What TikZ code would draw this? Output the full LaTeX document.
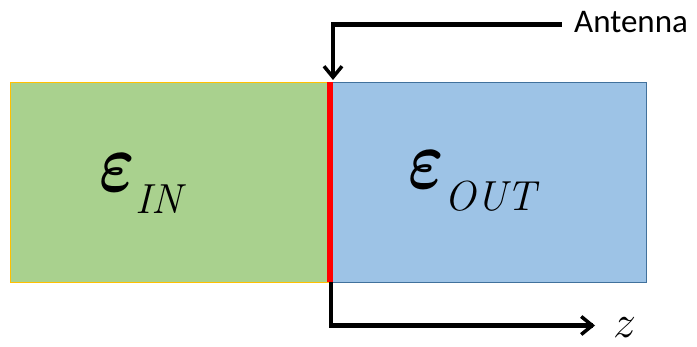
\RequirePackage{fix-cm}
\documentclass[tikz,border=0pt]{standalone}
\usepackage{amsmath}
\usepackage{fontspec}
\usetikzlibrary{arrows.meta}
\setsansfont{Carlito}
\definecolor{greenfill}{HTML}{A9D18E}
\definecolor{bluefill}{HTML}{9DC3E6}
\definecolor{blueedge}{HTML}{41719C}
\definecolor{orangeedge}{HTML}{FFC000}
\tikzset{
  region/.style={minimum height=200pt, inner sep=0pt, outer sep=0pt, line width=0.8pt},
  axis/.style={line width=4.5pt, line cap=rect, -{Straight Barb[length=11pt, width=18pt, line width=3.5pt]}},
  epsfont/.style={font=\rmfamily, inner sep=0pt},
}
\newcommand{\epslabel}[1]{\fontsize{84}{84}\selectfont\scalebox{0.8}[1]{$\boldsymbol{\varepsilon}$}\kern1pt\fontsize{42}{42}\selectfont\raisebox{-22pt}{\itshape #1}}
\begin{document}
\begin{tikzpicture}[x=1pt,y=-1pt]
\useasboundingbox (0,0) rectangle (697,347);
\node[region, draw=orangeedge, fill=greenfill, minimum width=320pt, anchor=north west] (in) at (10,82) {};
\node[region, draw=blueedge, fill=bluefill, minimum width=316pt, anchor=north west] (out) at (330,82) {};
\draw[red, line width=6pt] (in.north east) -- (in.south east);
\node[epsfont, anchor=base west] (epsin) at (99,192) {\epslabel{IN}};
\node[epsfont, anchor=base west] (epsout) at (408,189) {\epslabel{OUT}};
\node[font=\sffamily\fontsize{33}{33}\selectfont, anchor=base west, inner sep=0pt] (ant) at (574,33) {Antenna};
\coordinate (antstart) at (560,24.5);
\coordinate (anttip) at (333,80);
\draw[axis] (antstart) -| (anttip);
\coordinate (zstart) at (331,284);
\coordinate (ztip) at (595,325.5);
\draw[axis] (zstart) |- (ztip);
\node[font=\fontsize{46}{46}\selectfont, anchor=base west, inner sep=0pt] (z) at (613,338) {$z$};
\end{tikzpicture}
\end{document}
